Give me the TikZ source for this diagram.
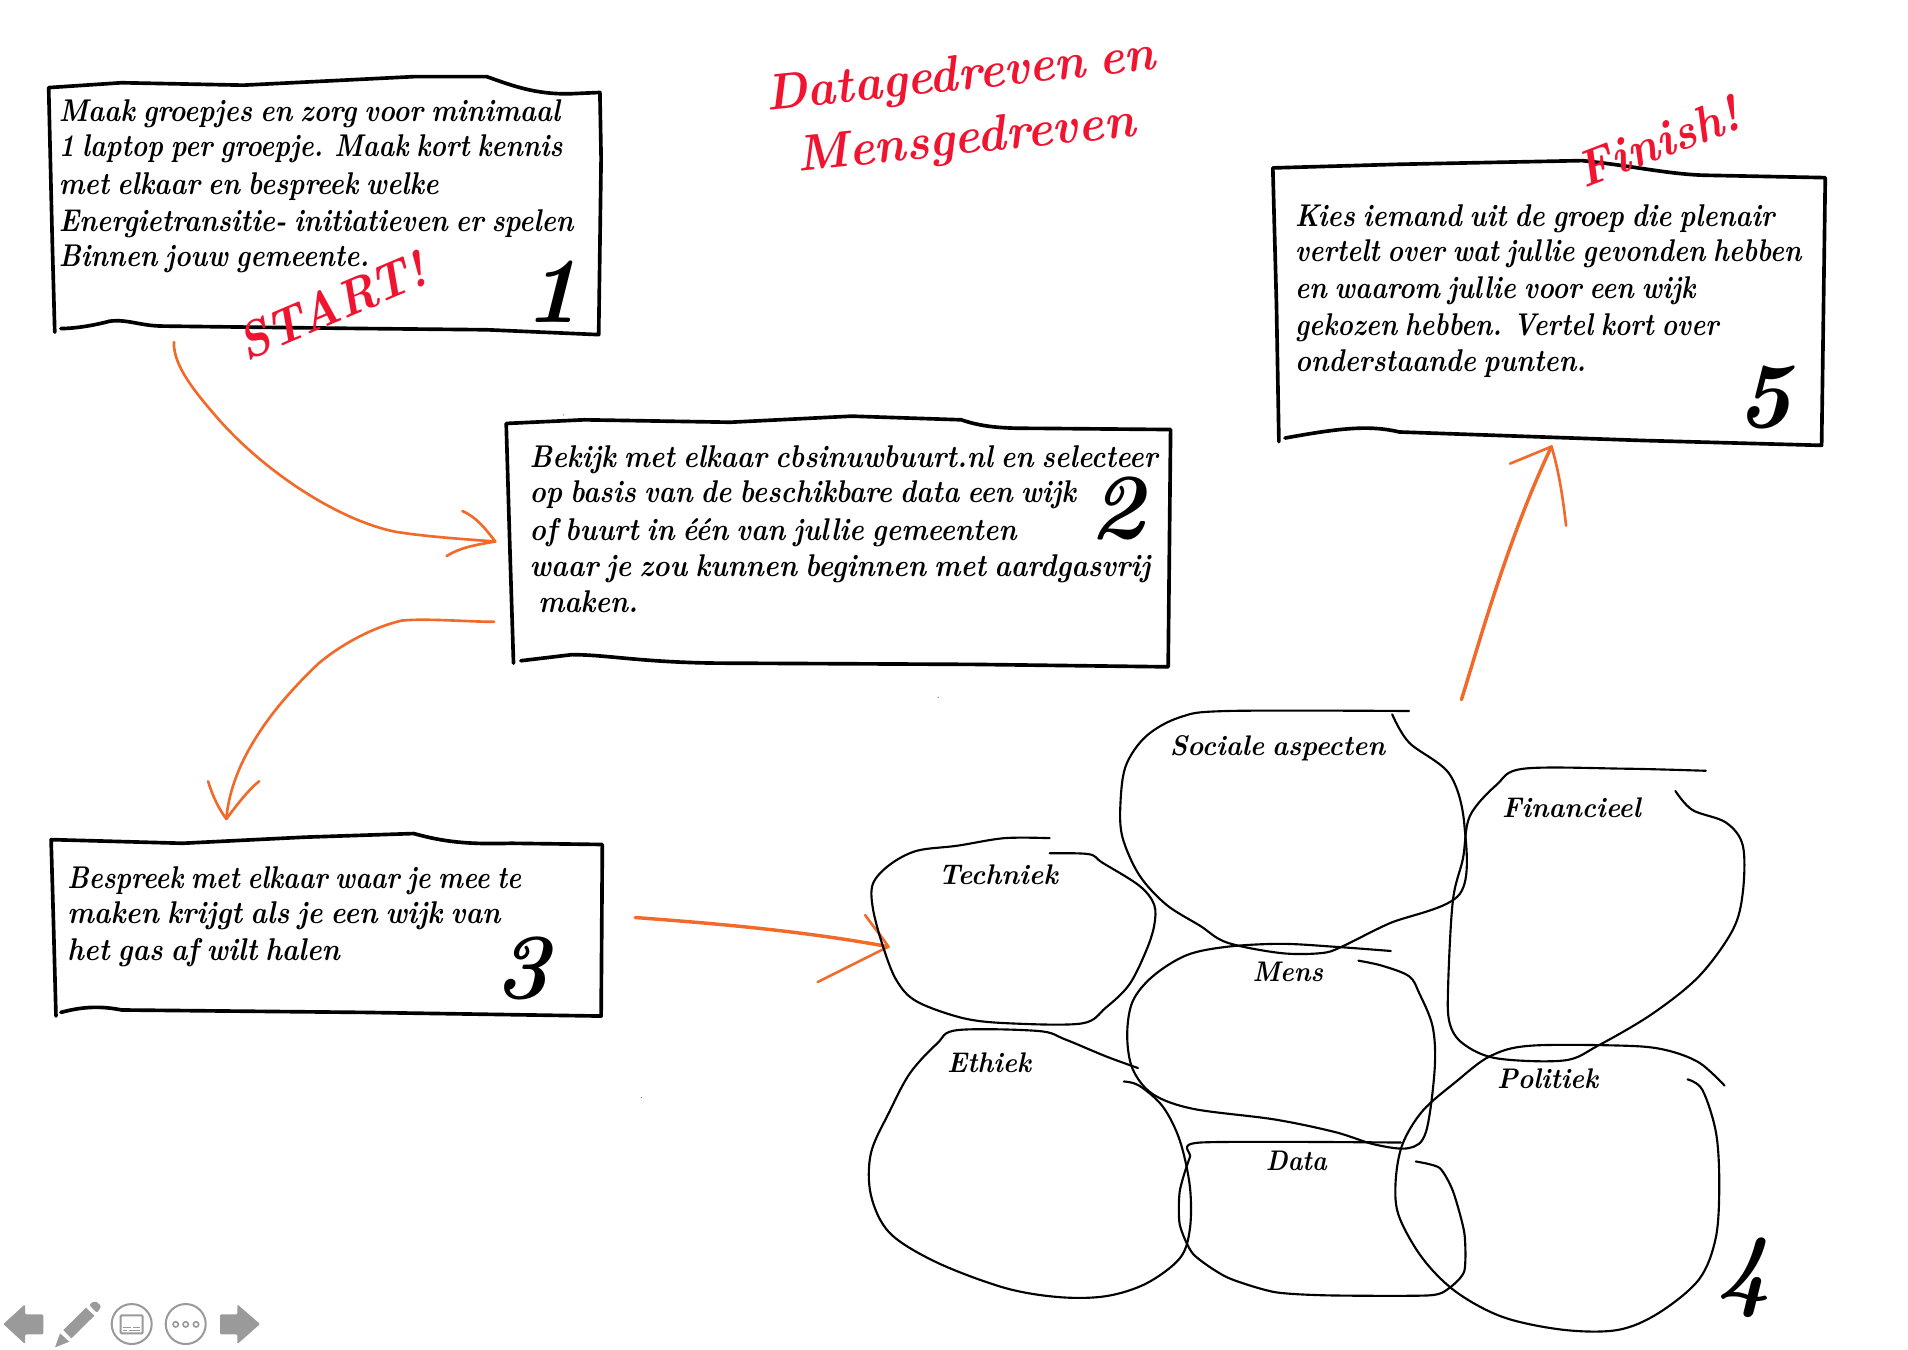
\documentclass[tikz,border=0pt]{standalone}
\usepackage{graphicx}
\usepackage{fontspec}
\setmainfont{Latin Modern Roman}[WordSpace=0.7]
\usetikzlibrary{calc}
\definecolor{arroworange}{HTML}{F26A2A}
\definecolor{titlered}{HTML}{F01430}
\definecolor{icongray}{HTML}{9A9A9A}
\newdimen\hwu \hwu=.6pt
\newcommand{\fl}[2]{\resizebox{#1\hwu}{\height}{#2}}
\tikzset{
  hand/.style={draw=black,line width=1.8pt,line cap=round,line join=round},
  blob/.style={draw=black,line width=1.05pt,line cap=round,line join=round},
  orange stroke/.style={draw=arroworange,line width=1.3pt,line cap=round,line join=round},
  hw/.style={anchor=base west,inner sep=0pt,xshift=-1.2pt,yshift=-.6pt,font=\fontsize{15.5}{18}\selectfont\bfseries\itshape},
  lbl/.style={anchor=base west,inner sep=0pt,xshift=-1.2pt,yshift=-.3pt,font=\fontsize{14}{16}\selectfont\bfseries\itshape},
  red title/.style={anchor=base west,inner sep=0pt,text=titlered,font=\fontsize{25}{28}\selectfont\bfseries\itshape},
  numeral/.style={inner sep=0pt,font=\fontsize{46}{50}\selectfont\bfseries\itshape},
  icon/.style={fill=icongray,draw=none},
  iconline/.style={draw=icongray,line width=1pt,fill=none},
}
\begin{document}
\begin{tikzpicture}[x=.6pt,y=-.6pt]
\useasboundingbox (0,0) rectangle (1568,1109);
% ---- boxes
\draw[hand] (45,273) -- (43,200) -- (40,72) -- (100,68) -- (200,70) -- (340,63) -- (400,63)
  .. controls (420,70) and (440,78) .. (470,77) -- (493,76) -- (494,130) -- (492,275)
  -- (400,271) -- (300,270) -- (135,268) .. controls (115,268) and (105,262) .. (90,264)
  .. controls (75,268) and (60,270) .. (50,270);
\draw[hand] (422,545) -- (419,450) -- (416,348) -- (480,345) -- (600,347) -- (700,342) -- (790,345)
  .. controls (810,352) and (830,352) .. (850,352) -- (962,353) -- (961,450) -- (960,548)
  -- (800,546) -- (600,545) .. controls (530,545) and (500,538) .. (470,538) -- (428,543);
\draw[hand] (46,835) -- (44,760) -- (42,690) -- (150,693) -- (250,688) -- (340,685)
  .. controls (365,692) and (385,694) .. (420,693) -- (495,694) -- (494,835)
  -- (300,832) -- (100,830) .. controls (80,826) and (65,828) .. (50,832);
\draw[hand] (1051,363) -- (1049,250) -- (1046,138) -- (1150,135) -- (1300,132)
  .. controls (1340,136) and (1370,143) .. (1400,144) -- (1500,146) -- (1497,366)
  -- (1350,362) -- (1150,355) .. controls (1125,349) and (1100,352) .. (1056,360);
% ---- box texts
\node[hw] (a1) at (50,99) {\fl{412}{Maak groepjes en zorg voor minimaal}};
\node[hw] (a2) at (50,128) {\fl{414}{1 laptop per groepje. Maak kort kennis}};
\node[hw] (a3) at (50,159) {\fl{312}{met elkaar en bespreek welke}};
\node[hw] (a4) at (50,189) {\fl{423}{Energietransitie- initiatieven er spelen}};
\node[hw] (a5) at (50,218) {\fl{255}{Binnen jouw gemeente.}};
\node[hw] (b1) at (437,383) {\fl{516}{Bekijk met elkaar cbsinuwbuurt.nl en selecteer}};
\node[hw] (b2) at (437,412) {\fl{449}{op basis van de beschikbare data een wijk}};
\node[hw] (b3) at (437,443) {\fl{400}{of buurt in één van jullie gemeenten}};
\node[hw] (b4) at (437,473) {\fl{510}{waar je zou kunnen beginnen met aardgasvrij}};
\node[hw] (b5) at (444,502) {\fl{82}{maken.}};
\node[hw] (c1) at (57,729) {\fl{373}{Bespreek met elkaar waar je mee te}};
\node[hw] (c2) at (57,758) {\fl{356}{maken krijgt als je een wijk van}};
\node[hw] (c3) at (57,788) {\fl{224}{het gas af wilt halen}};
\node[hw] (e1) at (1066,185) {\fl{394}{Kies iemand uit de groep die plenair}};
\node[hw] (e2) at (1066,214) {\fl{416}{vertelt over wat jullie gevonden hebben}};
\node[hw] (e3) at (1066,244) {\fl{329}{en waarom jullie voor een wijk}};
\node[hw] (e4) at (1066,275) {\fl{348}{gekozen hebben. Vertel kort over}};
\node[hw] (e5) at (1066,304) {\fl{239}{onderstaande punten.}};
% ---- numerals
\node[numeral] (n1) at (454,240) {1};
\node[numeral] (n2) at (918,418) {2};
\node[numeral] (n3) at (429,796) {3};
\node[numeral] (n4) at (1433,1050) {4};
\node[numeral] (n5) at (1450,327) {5};
% ---- red titles
\node[red title,rotate=6] (t1) at (630,91) {\fl{322}{Datagedreven en}};
\node[red title,rotate=6] (t2) at (656,141) {\fl{279}{Mensgedreven}};
\node[red title,rotate=23] (t3) at (202,297) {\fl{165}{START!}};
\node[red title,rotate=21] (t4) at (1302,155) {\fl{140}{Finish!}};
% ---- arrows
\coordinate (a1s) at (143,281); \coordinate (a1e) at (407,445);
\coordinate (a2s) at (406,511); \coordinate (a2e) at (186,673);
\coordinate (a3s) at (522,754); \coordinate (a3e) at (730,778);
\coordinate (a4s) at (1201,575); \coordinate (a4e) at (1275,367);
\draw[orange stroke] (a1s) .. controls (142,300) and (160,322) .. (180,345)
  .. controls (220,390) and (280,428) .. (325,437) .. controls (350,441) and (380,443) .. (a1e);
\draw[orange stroke] (380,420) .. controls (392,425) and (400,436) .. (a1e) .. controls (390,448) and (378,450) .. (367,457);
\draw[orange stroke] (a2s) .. controls (385,511) and (350,508) .. (330,510)
  .. controls (305,516) and (280,530) .. (262,545) .. controls (225,580) and (190,625) .. (a2e);
\draw[orange stroke] (171,642) .. controls (175,655) and (180,665) .. (a2e) .. controls (192,665) and (203,650) .. (213,642);
\draw[orange stroke,line width=1.7pt] (a3s) .. controls (560,757) and (650,763) .. (a3e);
\draw[orange stroke] (711,752) .. controls (718,762) and (725,770) .. (a3e) -- (672,807);
\draw[orange stroke,line width=1.7pt] (a4s) .. controls (1215,530) and (1240,440) .. (a4e);
\draw[orange stroke] (1241,381) -- (a4e) .. controls (1282,390) and (1285,415) .. (1287,432);
% ---- blobs (coordinates from a magnified view)
\begin{scope}[shift={(698,567)},x=.3325pt,y=-.2076pt]
\draw[blob] plot[smooth,tension=.55] coordinates {(830,50)(560,50)(490,65)(440,110)(410,180)(402,270)(405,350)(430,440)(470,510)(520,560)(560,600)(640,625)(700,625)(730,610)(800,555)(905,485)(912,320)(890,200)(830,125)(805,58)};
\draw[blob] plot[smooth,tension=.55] coordinates {(297,352)(230,352)(160,370)(100,382)(60,415)(35,460)(35,520)(50,610)(70,690)(100,740)(170,780)(240,792)(345,792)(380,755)(415,700)(440,620)(452,560)(452,510)(430,465)(375,410)(355,390)(297,388)};
\draw[blob] plot[smooth,tension=.55] coordinates {(803,620)(720,610)(640,603)(560,610)(500,630)(450,680)(420,740)(412,820)(420,900)(450,960)(510,995)(630,1020)(720,1050)(780,1080)(830,1088)(855,1050)(868,900)(865,800)(845,720)(830,680)(790,655)(755,643)};
\draw[blob] plot[smooth,tension=.55] coordinates {(428,898)(380,870)(320,830)(280,810)(160,808)(130,840)(90,910)(60,1000)(32,1100)(32,1200)(60,1290)(130,1360)(230,1420)(310,1442)(380,1440)(440,1410)(490,1350)(505,1280)(505,1180)(490,1070)(465,990)(430,940)(407,930)};
\draw[blob] plot[smooth,tension=.4] coordinates {(818,1075)(520,1075)(505,1110)(490,1190)(490,1270)(510,1340)(560,1395)(630,1430)(710,1438)(860,1438)(890,1420)(912,1380)(912,1290)(895,1190)(875,1135)(840,1120)};
\draw[blob] plot[smooth,tension=.55] coordinates {(1298,940)(1260,885)(1210,855)(1150,845)(1010,845)(950,870)(900,930)(850,1000)(820,1080)(810,1170)(815,1250)(850,1350)(900,1430)(970,1490)(1060,1520)(1140,1520)(1200,1480)(1260,1400)(1285,1300)(1290,1170)(1285,1050)(1265,950)(1243,925)};
\draw[blob] plot[smooth,tension=.55] coordinates {(1270,192)(1150,187)(1000,187)(960,225)(920,300)(910,400)(895,500)(888,700)(890,790)(910,840)(960,875)(1060,880)(1110,845)(1190,770)(1260,680)(1310,570)(1325,480)(1325,370)(1300,315)(1250,285)(1225,240)};
\end{scope}
% ---- blob labels
\node[lbl] (l1) at (963,620) {\fl{177}{Sociale aspecten}};
\node[lbl] (l2) at (1236,671) {\fl{114}{Financieel}};
\node[lbl] (l3) at (773,726) {\fl{98}{Techniek}};
\node[lbl] (l4) at (1031,806) {\fl{58}{Mens}};
\node[lbl] (l5) at (780,881) {\fl{69}{Ethiek}};
\node[lbl] (l6) at (1232,894) {\fl{83}{Politiek}};
\node[lbl] (l7) at (1042,961) {\fl{50}{Data}};
% ---- specks
\fill[black!60] (463,341) circle (.5);
\fill[black!60] (771,573) circle (.5);
\fill[black!60] (527,902) circle (.5);
% ---- toolbar (units of the magnified strip)
\begin{scope}[shift={(0,1043.7)},x=.1644pt,y=-.1644pt]
\fill[icon,rounded corners=.6pt] (10,162) -- (75,103) -- (75,133) -- (130,133) -- (130,193) -- (75,193) -- (75,222) -- cycle;
\fill[icon,rounded corners=.6pt] (780,162) -- (712,103) -- (712,133) -- (660,133) -- (660,193) -- (712,193) -- (712,222) -- cycle;
\fill[icon] (165,232) -- (180,190) -- (208,215) -- cycle;
\fill[icon] (190,180) -- (258,113) -- (283,137) -- (214,205) -- cycle;
\fill[icon,rounded corners=1pt] (267,104) -- (285,92) -- (304,108) -- (291,129) -- cycle;
\draw[iconline] (395,162) circle (60);
\draw[iconline,rounded corners=.5pt] (362,136) rectangle (428,190);
\draw[iconline,line width=.6pt] (370,172) -- (392,172) (398,172) -- (420,172) (370,182) -- (382,182) (388,182) -- (420,182);
\draw[iconline] (557,162) circle (60);
\draw[iconline,line width=.8pt] (527,163) circle (8) (557,163) circle (8) (588,163) circle (8);
\end{scope}
\end{tikzpicture}
\end{document}
